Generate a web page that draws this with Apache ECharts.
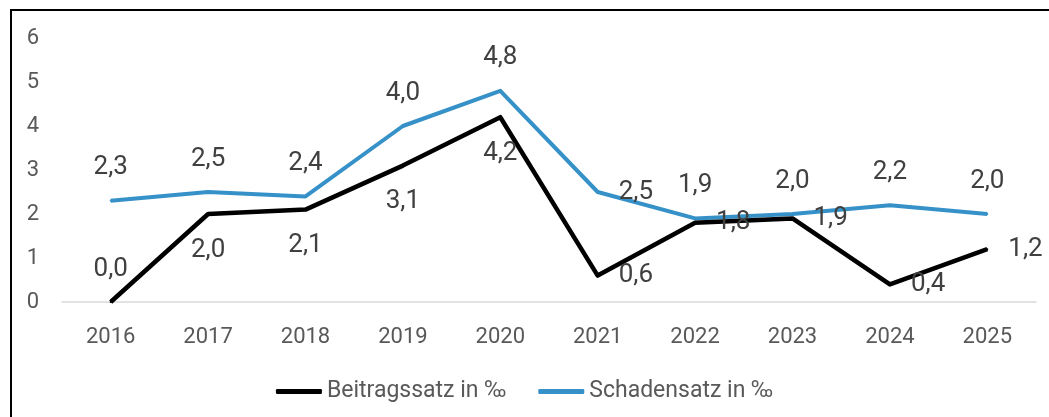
<!DOCTYPE html>
<html>
<head>
<meta charset="utf-8">
<script src="https://cdn.jsdelivr.net/npm/echarts@6/dist/echarts.min.js"></script>
<style>
  html, body { margin: 0; padding: 0; background: #fff; }
  #chart { width: 1049px; height: 417px; }
</style>
</head>
<body>
<div id="chart"></div>
<script>
// Jahre
const years = ['2016', '2017', '2018', '2019', '2020', '2021', '2022', '2023', '2024', '2025'];
// Beitragssatz in ‰
const beitragssatz = [0.0, 2.0, 2.1, 3.1, 4.2, 0.6, 1.8, 1.9, 0.4, 1.2];
// Schadensatz in ‰
const schadensatz = [2.3, 2.5, 2.4, 4.0, 4.8, 2.5, 1.9, 2.0, 2.2, 2.0];

// Lage der Datenbeschriftungen (wie im Original)
const beitragLabelPos = ['top', 'bottom', 'bottom', 'bottom', 'bottom', 'right', 'right', 'right', 'right', 'right'];
const schadenLabelPos = ['top', 'top', 'top', 'top', 'top', 'right', 'top', 'top', 'top', 'top'];

const FONT = 'Roboto, "Noto Sans", sans-serif';

function withLabels(values, positions) {
  return values.map((v, i) => ({
    value: v,
    label: { position: positions[i], distance: positions[i] === 'bottom' ? 22 : (positions[i] === 'top' ? 19 : 20) }
  }));
}

const dataLabel = {
  show: true,
  fontFamily: FONT,
  fontSize: 26,
  color: '#404040',
  formatter: p => p.value.toFixed(1).replace('.', ',')
};

const chart = echarts.init(document.getElementById('chart'));

chart.setOption({
  animation: false,
  textStyle: { fontFamily: FONT },
  graphic: [
    {
      type: 'rect',
      shape: { x: 11, y: 10, width: 1100, height: 500 },
      style: { fill: 'none', stroke: '#000', lineWidth: 2 },
      silent: true
    }
  ],
  grid: { left: 62, right: 13, top: 38, bottom: 115 },
  legend: {
    left: 'center',
    top: 375,
    itemWidth: 46,
    itemHeight: 5,
    itemGap: 32,
    icon: 'roundRect',
    textStyle: { fontFamily: FONT, fontSize: 23, color: '#595959' },
    data: ['Beitragssatz in ‰', 'Schadensatz in ‰']
  },
  xAxis: {
    type: 'category',
    data: years,
    boundaryGap: true,
    axisLine: { show: true, lineStyle: { color: '#d9d9d9', width: 1.5 } },
    axisTick: { show: false },
    axisLabel: { fontFamily: FONT, fontSize: 22, color: '#595959', margin: 24 }
  },
  yAxis: {
    type: 'value',
    min: 0,
    max: 6,
    interval: 1,
    axisLine: { show: false },
    axisTick: { show: false },
    splitLine: { show: false },
    axisLabel: { fontFamily: FONT, fontSize: 22, color: '#595959', margin: 23 }
  },
  series: [
    {
      name: 'Beitragssatz in ‰',
      type: 'line',
      data: withLabels(beitragssatz, beitragLabelPos),
      symbol: 'circle',
      symbolSize: 2,
      showSymbol: true,
      color: '#000000',
      itemStyle: { color: '#000000' },
      lineStyle: { width: 4.5, color: '#000000', join: 'round' },
      label: dataLabel,
      z: 3
    },
    {
      name: 'Schadensatz in ‰',
      type: 'line',
      data: withLabels(schadensatz, schadenLabelPos),
      symbol: 'circle',
      symbolSize: 2,
      showSymbol: true,
      color: '#3591c7',
      itemStyle: { color: '#3591c7' },
      lineStyle: { width: 4, color: '#3591c7', join: 'round' },
      label: dataLabel,
      z: 2
    }
  ]
});
</script>
</body>
</html>
